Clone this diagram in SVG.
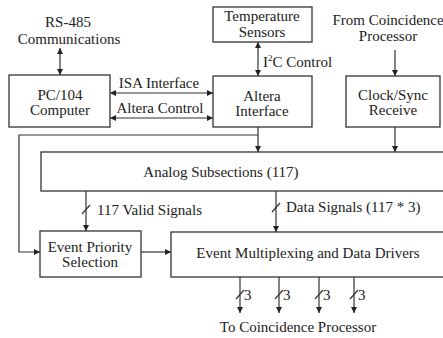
<svg xmlns="http://www.w3.org/2000/svg" width="443" height="338" viewBox="0 0 443 338">
<defs>
<marker id="ah" viewBox="0 0 10 10" refX="10" refY="5" markerWidth="6" markerHeight="6" orient="auto-start-reverse" markerUnits="userSpaceOnUse">
<path d="M0,0 L10,5 L0,10 z" fill="#222"/>
</marker>
<style>
.box{fill:#fff;stroke:#333;stroke-width:1.3}
.ln{fill:none;stroke:#333;stroke-width:1.2}
text{font-family:"Liberation Serif","Times New Roman",serif;font-size:15px;fill:#222}
.c{text-anchor:middle}
</style>
</defs>
<rect width="443" height="338" fill="#fff"/>

<g id="connectors">
<line class="ln" x1="60" y1="48" x2="60" y2="75" marker-start="url(#ah)" marker-end="url(#ah)"/>
<line class="ln" x1="110" y1="93" x2="213" y2="93" marker-start="url(#ah)" marker-end="url(#ah)"/>
<line class="ln" x1="110" y1="118" x2="213" y2="118" marker-start="url(#ah)" marker-end="url(#ah)"/>
<line class="ln" x1="258" y1="42" x2="258" y2="76" marker-start="url(#ah)" marker-end="url(#ah)"/>
<line class="ln" x1="395" y1="50" x2="395" y2="76" marker-end="url(#ah)"/>
<line class="ln" x1="258" y1="127" x2="258" y2="152" marker-end="url(#ah)"/>
<polyline class="ln" points="258,135 19,135 19,252 40,252" marker-end="url(#ah)"/>
<line class="ln" x1="395" y1="127" x2="395" y2="152" marker-end="url(#ah)"/>
<line class="ln" x1="86" y1="191" x2="86" y2="231" marker-end="url(#ah)"/>
<line class="ln" x1="82" y1="214" x2="90" y2="205"/>
<line class="ln" x1="276" y1="191" x2="276" y2="232" marker-end="url(#ah)"/>
<line class="ln" x1="272" y1="212" x2="280" y2="203"/>
<line class="ln" x1="141" y1="252" x2="171" y2="252" marker-end="url(#ah)"/>
<line class="ln" x1="240" y1="277" x2="240" y2="313" marker-end="url(#ah)"/>
<line class="ln" x1="279" y1="277" x2="279" y2="313" marker-end="url(#ah)"/>
<line class="ln" x1="319" y1="277" x2="319" y2="313" marker-end="url(#ah)"/>
<line class="ln" x1="354" y1="277" x2="354" y2="313" marker-end="url(#ah)"/>
<line class="ln" x1="236" y1="299" x2="244" y2="290"/>
<line class="ln" x1="275" y1="299" x2="283" y2="290"/>
<line class="ln" x1="315" y1="299" x2="323" y2="290"/>
<line class="ln" x1="350" y1="299" x2="358" y2="290"/>
</g>

<g id="labels">
<text class="c" x="68" y="27">RS-485</text>
<text class="c" x="69" y="44">Communications</text>
<text class="c" x="159" y="88">ISA Interface</text>
<text class="c" x="160" y="113">Altera Control</text>
<text x="263" y="67">I<tspan font-size="9" dy="-6">2</tspan><tspan dy="6">C Control</tspan></text>
<text class="c" x="388" y="25">From Coincidence</text>
<text class="c" x="388" y="41">Processor</text>
<text x="97" y="215">117 Valid Signals</text>
<text x="286" y="212">Data Signals (117 * 3)</text>
<text x="244" y="300">3</text>
<text x="283" y="300">3</text>
<text x="323" y="300">3</text>
<text x="358" y="300">3</text>
<text class="c" x="298" y="332">To Coincidence Processor</text>
</g>

<g id="pc104">
<rect class="box" x="9" y="75" width="101" height="52"/>
<text class="c" x="60" y="100">PC/104</text>
<text class="c" x="60" y="115">Computer</text>
</g>
<g id="temp">
<rect class="box" x="213" y="7" width="99" height="35"/>
<text class="c" x="262" y="21">Temperature</text>
<text class="c" x="262" y="37">Sensors</text>
</g>
<g id="altera">
<rect class="box" x="213" y="76" width="99" height="51"/>
<text class="c" x="262" y="101">Altera</text>
<text class="c" x="262" y="116">Interface</text>
</g>
<g id="clock">
<rect class="box" x="346" y="76" width="94" height="51"/>
<text class="c" x="393" y="100">Clock/Sync</text>
<text class="c" x="393" y="115">Receive</text>
</g>
<g id="analog">
<rect class="box" x="41" y="152" width="410" height="39"/>
<text class="c" x="221" y="177">Analog Subsections (117)</text>
</g>
<g id="priority">
<rect class="box" x="40" y="231" width="101" height="46"/>
<text class="c" x="90" y="252">Event Priority</text>
<text class="c" x="90" y="267">Selection</text>
</g>
<g id="mux">
<rect class="box" x="171" y="232" width="280" height="45"/>
<text class="c" x="308" y="258">Event Multiplexing and Data Drivers</text>
</g>
</svg>
